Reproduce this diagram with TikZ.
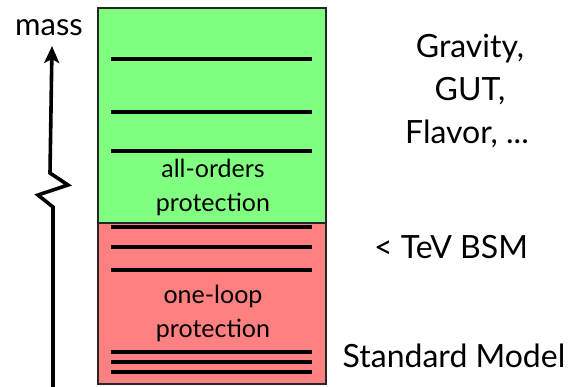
\documentclass[tikz,border=0pt]{standalone}
\usepackage{fontspec}
\setmainfont{Lato}
\usetikzlibrary{arrows.meta}
\definecolor{boxgreen}{RGB}{128,255,128}
\definecolor{boxred}{RGB}{255,128,128}
\tikzset{
  level/.style={line width=3.6pt, black},
  boxtxt/.style={font=\fontsize{25}{30}\selectfont, inner sep=0pt, align=center},
  sidetxt/.style={font=\fontsize{32}{42}\selectfont, inner sep=0pt, align=center},
  region/.style={draw=black!85, line width=2.2pt, inner sep=0pt},
}
\begin{document}
\begin{tikzpicture}[x=1pt,y=-1pt]
\useasboundingbox (0,0) rectangle (569,386);
% boxes
\node[region, fill=boxgreen, minimum width=228pt, minimum height=215pt, anchor=north west] (green) at (97,7) {};
\node[region, fill=boxred, minimum width=228pt, minimum height=161pt, anchor=north west] (red) at (97,222) {};
% levels
\foreach \y in {59,112,151,227,247,270,352,362,372}
  \draw[level] (111,\y) -- (312,\y);
% box texts
\node[boxtxt, anchor=base] (ao) at (213,177) {all-orders};
\node[boxtxt, anchor=base] (ap) at (213,211) {protection};
\node[boxtxt, anchor=base] (ol) at (213,303) {one-loop};
\node[boxtxt, anchor=base] (op) at (213,337) {protection};
% side texts
\node[sidetxt, anchor=base] (grav) at (470,57) {Gravity,};
\node[sidetxt, anchor=base] (gut) at (470,100) {GUT,};
\node[sidetxt, anchor=base] (flav) at (467,143) {Flavor, ...};
\node[sidetxt, anchor=base] (tev) at (451,258) {< TeV BSM};
\node[sidetxt, anchor=base] (sm) at (454,367) {Standard Model};
\node[font=\fontsize{31}{34}\selectfont, inner sep=0pt, anchor=base] (mass) at (49,35) {mass};
% mass axis
\coordinate (tip) at (52,46);
\coordinate (z0) at (50,173);
\coordinate (z1) at (68,185);
\coordinate (z2) at (38,195);
\coordinate (z3) at (53,207);
\coordinate (bot) at (53,390);
\draw[line width=3.6pt, line join=miter, -{Stealth[length=17pt,width=15pt,inset=4pt]}]
  (bot) -- (z3) -- (z2) -- (z1) -- (z0) -- (tip);
\end{tikzpicture}
\end{document}
